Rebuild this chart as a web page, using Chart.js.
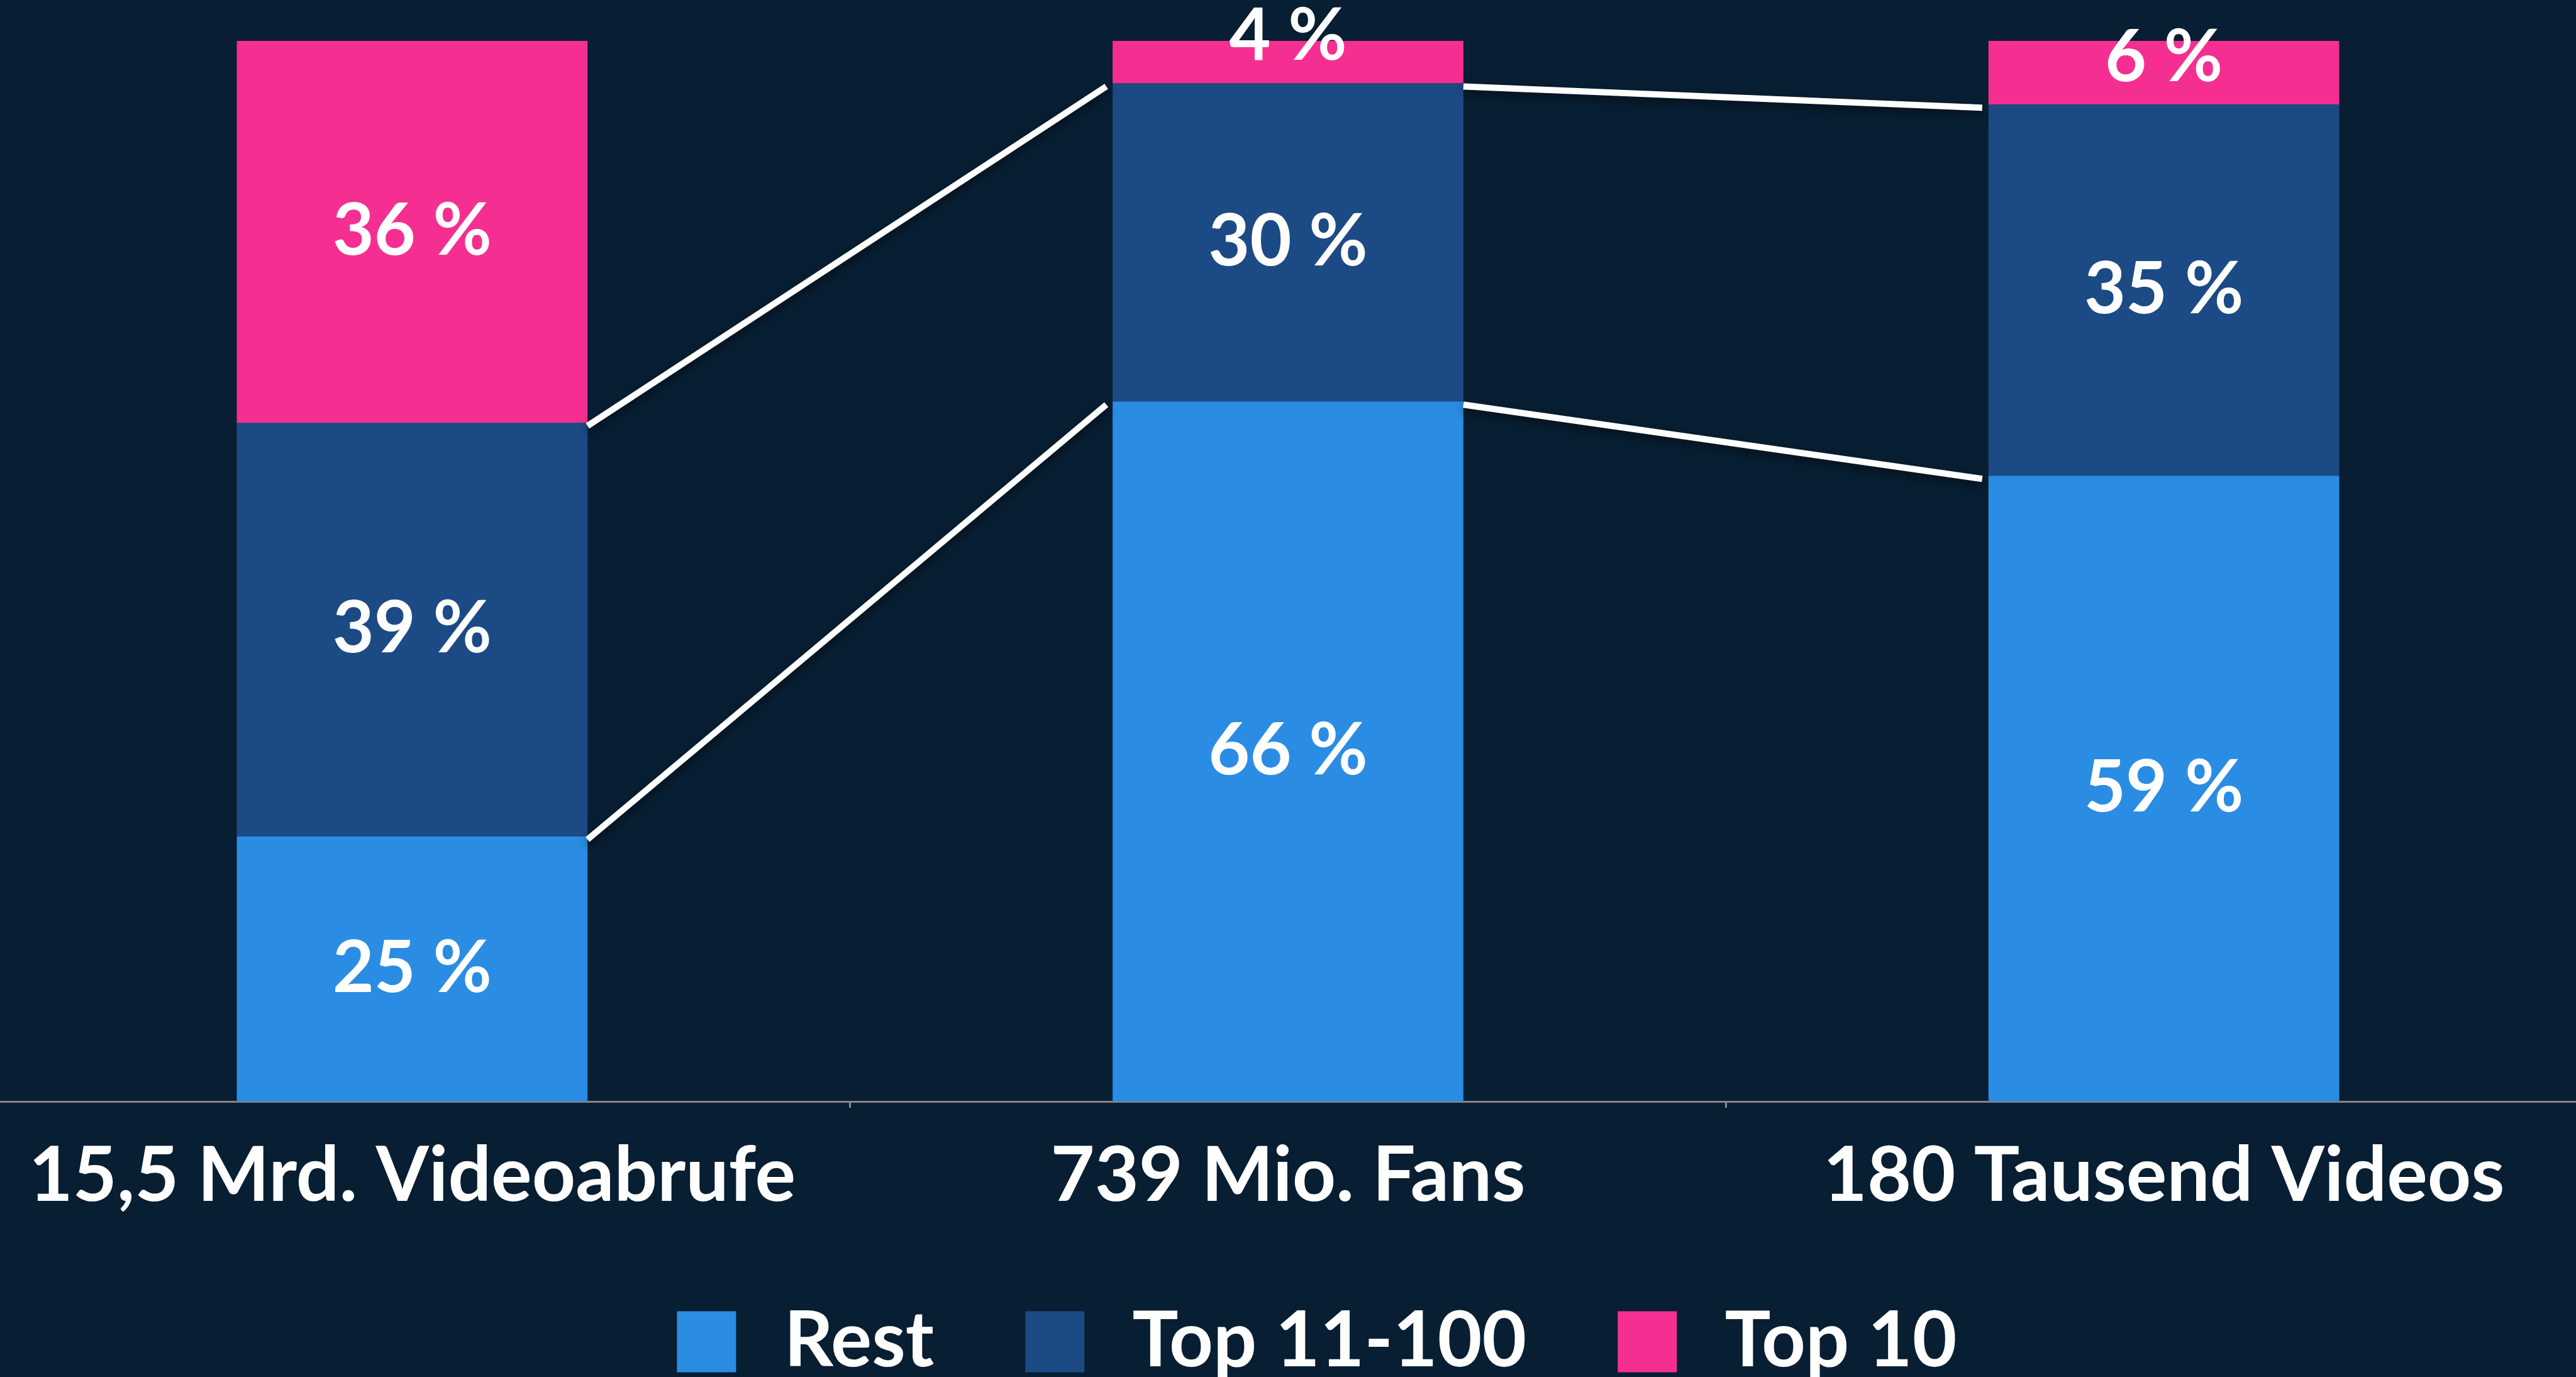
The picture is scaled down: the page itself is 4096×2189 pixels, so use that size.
<!DOCTYPE html>
<html lang="de">
<head>
<meta charset="utf-8">
<title>Verteilung Videoabrufe, Fans, Videos</title>
<script src="https://cdn.jsdelivr.net/npm/chart.js"></script>
<style>
    html, body {
        margin: 0;
        padding: 0;
        width: 4096px;
        height: 2189px;
        overflow: hidden;
        background: #081e32;
    }
    #wrap {
        position: absolute;
        left: -41px;
        top: 0;
        width: 4270px;
        height: 2204px;
    }
</style>
</head>
<body>
<div id="wrap"><canvas id="shareChart"></canvas></div>
<script>
// Data
const categories = ['15,5 Mrd. Videoabrufe', '739 Mio. Fans', '180 Tausend Videos'];
const restValues = [25, 66, 59];
const top11to100Values = [39, 30, 35];
const top10Values = [36, 4, 6];
const seriesNames = ['Rest', 'Top 11-100', 'Top 10'];

const colors = {
    rest: '#2a8de3',
    mid: '#1c4a84',
    top: '#f52f91',
    axis: '#858585'
};

// white connector lines between the segment borders of neighbouring bars
const connectorPlugin = {
    id: 'connectors',
    afterDatasetsDraw(chart) {
        const ctx = chart.ctx;
        const y = chart.scales.y;
        const bars = chart.getDatasetMeta(0).data;
        const levels = [
            restValues,
            restValues.map((v, i) => v + top11to100Values[i])
        ];
        ctx.save();
        ctx.strokeStyle = '#ffffff';
        ctx.lineWidth = 10;
        ctx.shadowColor = 'rgba(0, 0, 0, 0.5)';
        ctx.shadowBlur = 14;
        ctx.shadowOffsetY = 6;
        for (let i = 0; i < bars.length - 1; i++) {
            const x1 = bars[i].x + bars[i].width / 2;
            const x2 = bars[i + 1].x - bars[i + 1].width / 2 - 10;
            levels.forEach(level => {
                ctx.beginPath();
                ctx.moveTo(x1, y.getPixelForValue(level[i]) + 5);
                ctx.lineTo(x2, y.getPixelForValue(level[i + 1]) + 5);
                ctx.stroke();
            });
        }
        ctx.restore();
    }
};

// percentage labels inside the segments (small ones pushed up)
const valueLabelPlugin = {
    id: 'valueLabels',
    afterDatasetsDraw(chart) {
        const ctx = chart.ctx;
        ctx.save();
        ctx.fillStyle = '#ffffff';
        ctx.font = 'bold 114px Lato';
        ctx.textAlign = 'center';
        ctx.textBaseline = 'middle';
        chart.data.datasets.forEach((ds, di) => {
            chart.getDatasetMeta(di).data.forEach((bar, i) => {
                const center = (bar.y + bar.base) / 2;
                const ty = Math.min(center, bar.base - 74);
                ctx.fillText(ds.data[i] + ' %', bar.x, ty);
            });
        });
        ctx.restore();
    }
};

const ctx = document.getElementById('shareChart');

new Chart(ctx, {
    type: 'bar',
    data: {
        labels: categories,
        datasets: [{
            label: seriesNames[0],
            data: restValues,
            backgroundColor: colors.rest
        }, {
            label: seriesNames[1],
            data: top11to100Values,
            backgroundColor: colors.mid
        }, {
            label: seriesNames[2],
            data: top10Values,
            backgroundColor: colors.top
        }]
    },
    options: {
        responsive: true,
        maintainAspectRatio: false,
        animation: false,
        layout: {
            padding: { top: 65, left: 0, right: 0, bottom: 0 }
        },
        datasets: {
            bar: {
                categoryPercentage: 1,
                barPercentage: 0.4005,
                borderWidth: 0
            }
        },
        plugins: {
            tooltip: { enabled: false },
            legend: {
                position: 'bottom',
                labels: {
                    color: '#ffffff',
                    font: { family: 'Lato', weight: 'bold', size: 122 },
                    boxWidth: 94,
                    boxHeight: 97,
                    padding: 145,
                    generateLabels(chart) {
                        const items = Chart.defaults.plugins.legend.labels.generateLabels(chart);
                        items.forEach(item => { item.text = '\u2009' + item.text; });
                        return items;
                    }
                }
            }
        },
        scales: {
            x: {
                stacked: true,
                grid: {
                    display: true,
                    offset: true,
                    drawOnChartArea: false,
                    drawTicks: true,
                    tickLength: 10,
                    color: colors.axis,
                    lineWidth: 3
                },
                border: {
                    display: true,
                    color: colors.axis,
                    width: 3
                },
                ticks: {
                    color: '#ffffff',
                    font: { family: 'Lato', weight: 'bold', size: 121 },
                    padding: 36,
                    maxRotation: 0
                },
                afterFit(axis) {
                    axis.height = 176;
                }
            },
            y: {
                stacked: true,
                position: 'right',
                min: 0,
                max: 100,
                grid: { display: false },
                border: { display: false },
                ticks: { display: false },
                afterFit(axis) {
                    // empty strip on the right, keeps the legend a bit right of the bars
                    axis.width = 92;
                }
            }
        }
    },
    plugins: [connectorPlugin, valueLabelPlugin]
});
</script>
</body>
</html>
